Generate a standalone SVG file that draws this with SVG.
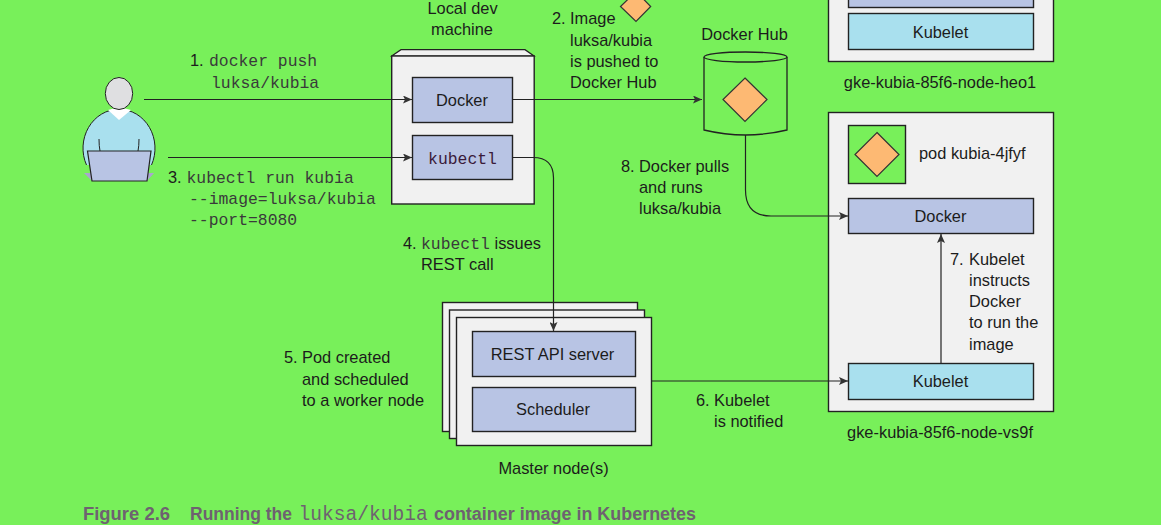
<svg xmlns="http://www.w3.org/2000/svg" width="1161" height="525" viewBox="0 0 1161 525">
<style>
text{font-family:"Liberation Sans",Arial,sans-serif;font-size:16.4px;fill:#1c1c1c}
.m{font-family:"Liberation Mono","Courier New",monospace;font-size:16.4px;fill:#3a3a3a}
.c{text-anchor:middle}
.box{fill:#f1f1f1;stroke:#222;stroke-width:1.4}
.blue{fill:#b8c4e4;stroke:#222;stroke-width:1.4}
.cyan{fill:#a9e0ee;stroke:#222;stroke-width:1.4}
.dia{fill:#fdb973;stroke:#333;stroke-width:1.2}
.line{fill:none;stroke:#222;stroke-width:1.2}
.cap{font-size:18px;font-weight:bold;fill:#6e6270}
</style>
<defs>
<marker id="a" markerUnits="userSpaceOnUse" markerWidth="10" markerHeight="8" refX="9" refY="4" orient="auto"><path d="M0 0L9 4L0 8L2 4Z" fill="#333"/></marker>
</defs>
<rect width="1161" height="525" fill="#78f05a"/>
<g id="user">
<path d="M84 173H154L147 181H92Z" fill="#a9a6cf"/>
<path d="M86.500 165A36 39 0 1 1 151.500 165" fill="#a9e0ee" stroke="#222" stroke-width="1"/>
<path d="M108 110Q119 106 131 110L119 120Z" fill="#fff"/>
<path d="M99 139Q99 146 100 151M139 139Q139 146 138 151" fill="none" stroke="#222" stroke-width="1"/>
<ellipse cx="119" cy="93.500" rx="13.700" ry="16" fill="#dfdfe1" stroke="#222" stroke-width="1"/>
<path d="M87.500 151H151L147 181H92Z" fill="#b8c4e4" stroke="#222" stroke-width="1.2"/>
</g>
<g id="local-machine">
<path d="M391.700 56L401 49.700H525L534 56Z" fill="#f1f1f1" stroke="#222" stroke-width="1.2"/>
<rect class="box" x="391.700" y="56" width="142.500" height="148"/>
<text class="c" x="462.500" y="14">Local dev</text>
<text class="c" x="462" y="35">machine</text>
</g>
<g id="docker-local"><rect class="blue" x="412.500" y="77.500" width="100" height="45"/><text class="c" x="462" y="106">Docker</text></g>
<g id="kubectl"><rect class="blue" x="412.500" y="135.500" width="100" height="44"/><text class="m c" x="462.500" y="164" style="fill:#3a1a3a">kubectl</text></g>
<g id="image-diamond"><path class="dia" d="M636 -8.500L650.700 6.500L636 21.500L620.500 6.500Z"/></g>
<g id="docker-hub">
<path d="M704 57V130Q745.500 140 787 130V57" fill="#78f05a" stroke="#222" stroke-width="1.3"/>
<ellipse cx="745.500" cy="57" rx="41.500" ry="5" fill="#78f05a" stroke="#222" stroke-width="1.3"/>
<path class="dia" d="M745 78L767 99.500L745 121.500L723 99.500Z"/>
<text class="c" x="744.500" y="40">Docker Hub</text>
</g>
<g id="node-heo1">
<rect class="box" x="828.500" y="-10" width="225" height="71.500"/>
<rect class="blue" x="848.500" y="-10" width="185" height="17.500"/>
<rect class="cyan" x="848.500" y="13.500" width="185" height="36"/>
<text class="c" x="940.500" y="38">Kubelet</text>
<text class="c" x="940" y="88">gke-kubia-85f6-node-heo1</text>
</g>
<g id="node-vs9f">
<rect class="box" x="828.500" y="112.500" width="225" height="299"/>
<rect x="848.500" y="125.500" width="57" height="58" fill="#78f05a" stroke="#222" stroke-width="1.4"/>
<path class="dia" d="M877 132.500L899 154.500L877 176.500L855 154.500Z"/>
<text x="919" y="159">pod kubia-4jfyf</text>
<text class="c" x="940" y="438">gke-kubia-85f6-node-vs9f</text>
</g>
<g id="docker-node"><rect class="blue" x="848.500" y="198.500" width="185" height="35"/><text class="c" x="940.500" y="222">Docker</text></g>
<g id="kubelet-node"><rect class="cyan" x="848.500" y="363.500" width="185" height="36"/><text class="c" x="940.500" y="387">Kubelet</text></g>
<g id="master">
<rect class="box" x="442.500" y="302.500" width="195" height="129"/>
<rect class="box" x="449.500" y="310" width="195" height="128.500"/>
<rect class="box" x="456.500" y="317.500" width="195" height="128"/>
<text class="c" x="553.500" y="474">Master node(s)</text>
</g>
<g id="rest-api"><rect class="blue" x="472.500" y="331.500" width="163" height="45"/><text class="c" x="552.500" y="360">REST API server</text></g>
<g id="scheduler"><rect class="blue" x="472.500" y="387.500" width="163" height="44"/><text class="c" x="553" y="415">Scheduler</text></g>
<g id="connectors">
<path class="line" marker-end="url(#a)" d="M144 99.500H412"/>
<path class="line" marker-end="url(#a)" d="M168 157.500H412"/>
<path class="line" marker-end="url(#a)" d="M512.500 99.500H702"/>
<path class="line" marker-end="url(#a)" d="M512.500 157.500H533Q553.500 157.500 553.500 178V331"/>
<path class="line" marker-end="url(#a)" d="M745.500 135V190Q745.500 216 771 216H848"/>
<path class="line" marker-end="url(#a)" d="M941 363V234"/>
<path class="line" marker-end="url(#a)" d="M651.500 381H848"/>
</g>
<g id="labels">
<text x="190" y="66">1.</text><text class="m" x="209" y="66">docker push</text>
<text class="m" x="211" y="88">luksa/kubia</text>
<text x="168" y="183">3.</text><text class="m" x="186.500" y="183">kubectl run kubia</text>
<text class="m" x="189" y="204">--image=luksa/kubia</text>
<text class="m" x="189" y="225">--port=8080</text>
<text x="552" y="24">2.</text><text x="570" y="24">Image</text>
<text x="570" y="46">luksa/kubia</text>
<text x="570" y="67">is pushed to</text>
<text x="570" y="88">Docker Hub</text>
<text x="621" y="172">8.</text><text x="639" y="172">Docker pulls</text>
<text x="639" y="193">and runs</text>
<text x="639" y="214">luksa/kubia</text>
<text x="403" y="249">4.</text><text class="m" x="421" y="249">kubectl</text><text x="494.500" y="249">issues</text>
<text x="421" y="270">REST call</text>
<text x="284" y="363">5.</text><text x="302" y="363">Pod created</text>
<text x="302" y="385">and scheduled</text>
<text x="302" y="406">to a worker node</text>
<text x="696" y="406">6.</text><text x="714" y="406">Kubelet</text>
<text x="714" y="427">is notified</text>
<text x="950" y="265">7.</text><text x="969" y="265">Kubelet</text>
<text x="969" y="286">instructs</text>
<text x="969" y="307">Docker</text>
<text x="969" y="328">to run the</text>
<text x="969" y="350">image</text>
</g>
<g id="caption">
<text class="cap" x="83" y="520" textLength="87" lengthAdjust="spacingAndGlyphs">Figure 2.6</text>
<text class="cap" x="190" y="520" textLength="102" lengthAdjust="spacingAndGlyphs">Running the</text>
<text class="m" x="298.500" y="520" style="font-size:19.600px;fill:#6e6270">luksa/kubia</text>
<text class="cap" x="434" y="520" textLength="262" lengthAdjust="spacingAndGlyphs">container image in Kubernetes</text>
</g>
</svg>
